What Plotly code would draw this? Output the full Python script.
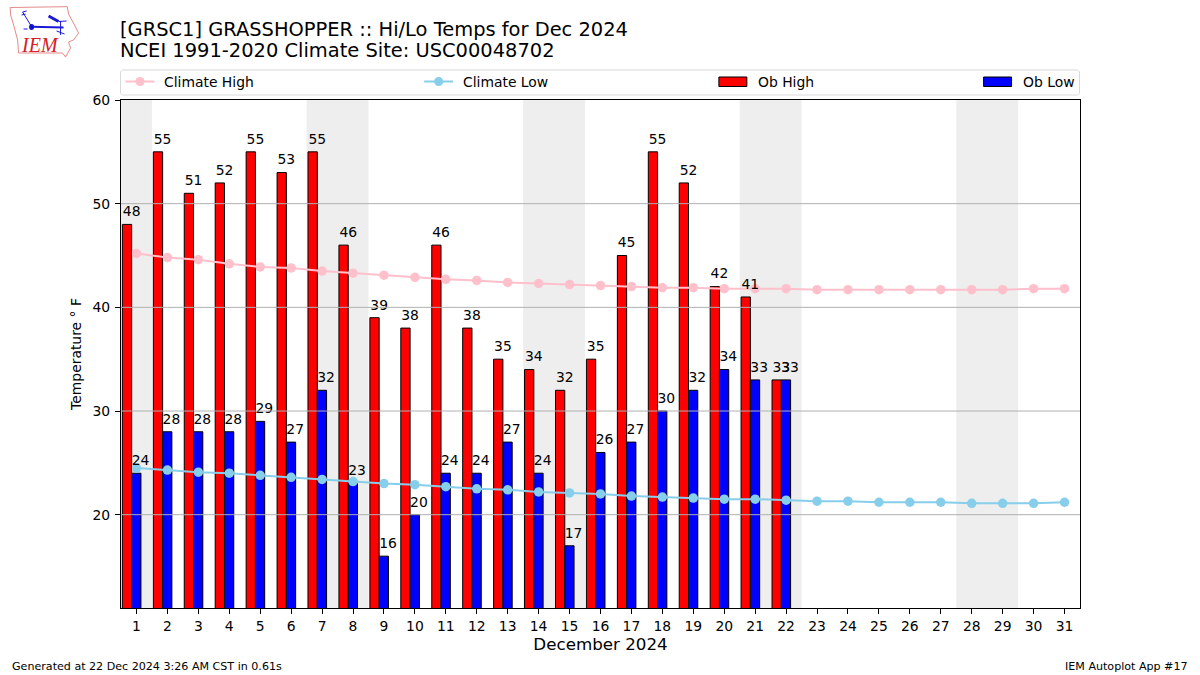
import plotly.graph_objects as go

days = list(range(1, 32))
obs_days = list(range(1, 23))
ob_high = [48, 55, 51, 52, 55, 53, 55, 46, 39, 38, 46, 38, 35, 34, 32, 35, 45, 55, 52, 42, 41, 33]
ob_low = [24, 28, 28, 28, 29, 27, 32, 23, 16, 20, 24, 24, 27, 24, 17, 26, 27, 30, 32, 34, 33, 33]
climate_high = [45.2, 44.8, 44.6, 44.2, 43.9, 43.8, 43.5, 43.3, 43.1, 42.9, 42.7, 42.6, 42.4, 42.3, 42.2, 42.1,
                42.0, 41.9, 41.9, 41.8, 41.8, 41.8, 41.7, 41.7, 41.7, 41.7, 41.7, 41.7, 41.7, 41.8, 41.8]
climate_low = [24.5, 24.3, 24.1, 24.0, 23.8, 23.6, 23.4, 23.2, 23.0, 22.9, 22.7, 22.5, 22.4, 22.2, 22.1, 22.0,
               21.8, 21.7, 21.6, 21.5, 21.5, 21.4, 21.3, 21.3, 21.2, 21.2, 21.2, 21.1, 21.1, 21.1, 21.2]
weekend_spans = [(0.5, 1.5), (6.5, 8.5), (13.5, 15.5), (20.5, 22.5), (27.5, 29.5)]
y_ticks = [20, 30, 40, 50, 60]

FONT = "DejaVu Sans"
L, T, W, H = 120.5, 100.0, 960.0, 508.0


def px(x):
    return (x - L) / W


def py(y):
    return (T + H - y) / H


def path(points, close=True):
    s = "M" + " L".join(f"{px(x):.5f},{py(y):.5f}" for x, y in points)
    return s + (" Z" if close else "")


fig = go.Figure()
fig.add_bar(x=obs_days, y=ob_high, name="Ob High", width=0.3, offset=-0.455,
            marker=dict(color="#ff0000", line=dict(color="black", width=1)))
fig.add_bar(x=obs_days, y=ob_low, name="Ob Low", width=0.3, offset=-0.155,
            marker=dict(color="#0000ff", line=dict(color="black", width=1)))
fig.add_scatter(x=days, y=climate_high, name="Climate High", mode="lines+markers",
                line=dict(color="#ffc0cb", width=2), marker=dict(color="#ffc0cb", size=9.5))
fig.add_scatter(x=days, y=climate_low, name="Climate Low", mode="lines+markers",
                line=dict(color="#87ceeb", width=2), marker=dict(color="#87ceeb", size=9.5))
text_font = dict(family=FONT, size=13.9, color="black")
fig.add_scatter(x=[d - 0.155 for d in obs_days], y=[v + 0.45 for v in ob_high], mode="text",
                text=[str(v) for v in ob_high], textposition="top center", textfont=text_font,
                cliponaxis=False, name="High labels")
fig.add_scatter(x=[d + 0.13 for d in obs_days], y=[v + 0.45 for v in ob_low], mode="text",
                text=[str(v) for v in ob_low], textposition="top center", textfont=text_font,
                cliponaxis=False, name="Low labels")

shapes = []
for a, b in weekend_spans:
    shapes.append(dict(type="rect", xref="x", yref="paper", x0=a, x1=b, y0=0, y1=1,
                       fillcolor="#eeeeee", line_width=0, layer="below"))
for v in y_ticks[:-1]:
    shapes.append(dict(type="line", xref="paper", yref="y", x0=0, x1=1, y0=v, y1=v,
                       line=dict(color="#b0b0b0", width=1), layer="above"))

# legend frame and handles
shapes.append(dict(type="path", xref="paper", yref="paper", layer="above",
                   path=path([(122, 70), (1078, 70), (1080, 72), (1080, 93), (1078, 95), (122, 95), (120, 93), (120, 72)]),
                   fillcolor="white", line=dict(color="#d9d9d9", width=1)))
for x0, c in [(125, "#ffc0cb"), (424, "#87ceeb")]:
    shapes.append(dict(type="line", xref="paper", yref="paper", x0=px(x0), x1=px(x0 + 29),
                       y0=py(81.5), y1=py(81.5), line=dict(color=c, width=2)))
    shapes.append(dict(type="circle", xref="paper", yref="paper", x0=px(x0 + 10), x1=px(x0 + 19),
                       y0=py(77), y1=py(86), fillcolor=c, line_width=0))
for x0, c in [(719, "#ff0000"), (984, "#0000ff")]:
    shapes.append(dict(type="rect", xref="paper", yref="paper", x0=px(x0), x1=px(x0 + 28),
                       y0=py(77), y1=py(86.5), fillcolor=c, line=dict(color="black", width=1)))

# IEM logo
outline = [(9.5, 7.5), (66.7, 6.7), (68, 14), (74, 25), (78, 33), (73, 40), (68, 42), (70, 48), (65, 57),
           (62, 53), (18, 53), (17, 40), (13, 25), (10, 15)]
shapes.append(dict(type="path", xref="paper", yref="paper", path=path(outline),
                   line=dict(color="#e58a8a", width=1), fillcolor="white"))
for seg, w in [([(31, 26.7), (63, 27.5)], 2), ([(22, 12), (30, 25)], 1), ([(22, 12), (26, 11)], 1),
               ([(21, 15), (25, 14)], 1), ([(48, 16), (58, 21.5)], 3), ([(58, 21.5), (66, 21)], 1),
               ([(60, 21), (60, 35)], 1), ([(56, 31), (64, 34)], 1), ([(23, 29), (27, 29)], 1)]:
    shapes.append(dict(type="path", xref="paper", yref="paper", path=path(seg, close=False),
                       line=dict(color="#1a1ad6", width=w)))
shapes.append(dict(type="circle", xref="paper", yref="paper", x0=px(28.5), x1=px(33.5), y0=py(24), y1=py(30),
                   fillcolor="#1010d0", line_width=0))


def note(text, x, y, size=13.9, xanchor="left", color="black", family=FONT, **kw):
    shift = -3 if xanchor == "left" else 3
    return dict(text=text, x=px(x), y=py(y), xref="paper", yref="paper", xanchor=xanchor, yanchor="middle",
                xshift=shift, showarrow=False, font=dict(family=family, size=size, color=color), **kw)


annotations = [
    note("[GRSC1] GRASSHOPPER :: Hi/Lo Temps for Dec 2024", 120, 29, size=19.46),
    note("NCEI 1991-2020 Climate Site: USC00048702", 120, 50.5, size=19.46),
    note("Climate High", 165, 81.5),
    note("Climate Low", 464, 81.5),
    note("Ob High", 759, 81.5),
    note("Ob Low", 1024, 81.5),
    note("Generated at 22 Dec 2024 3:26 AM CST in 0.61s", 12, 666, size=11.1),
    note("IEM Autoplot App #17", 1188, 666, size=11.1, xanchor="right"),
    note("<i>IEM</i>", 21, 45, size=20, color="#d42027", family="Liberation Serif"),
]

axis = dict(showline=True, linecolor="black", linewidth=1, mirror=True, ticks="outside", ticklen=5, tickwidth=1,
            tickcolor="black", tickfont=dict(family=FONT, size=13.9, color="black"), zeroline=False)
fig.update_layout(
    width=1200, height=675, autosize=False, showlegend=False, barmode="overlay",
    paper_bgcolor="white", plot_bgcolor="white",
    margin=dict(l=L, r=1200 - L - W, t=T, b=675 - T - H, pad=0),
    font=dict(family=FONT, color="black"),
    xaxis=dict(axis, range=[0.5, 31.5], tickmode="array", tickvals=days, ticktext=[str(d) for d in days],
               showgrid=False, title=dict(text="December 2024", font=dict(family=FONT, size=16.7), standoff=5)),
    yaxis=dict(axis, range=[11, 60], tickmode="array", tickvals=y_ticks, ticktext=[str(v) for v in y_ticks],
               ticklabelstandoff=2,
               showgrid=False, title=dict(text="Temperature ° F", font=dict(family=FONT, size=13.9), standoff=7)),
    shapes=shapes, annotations=annotations,
)
fig.write_html("out.html", config={"displayModeBar": False},
               post_script="document.body.style.margin='0';document.body.style.overflow='hidden';")
